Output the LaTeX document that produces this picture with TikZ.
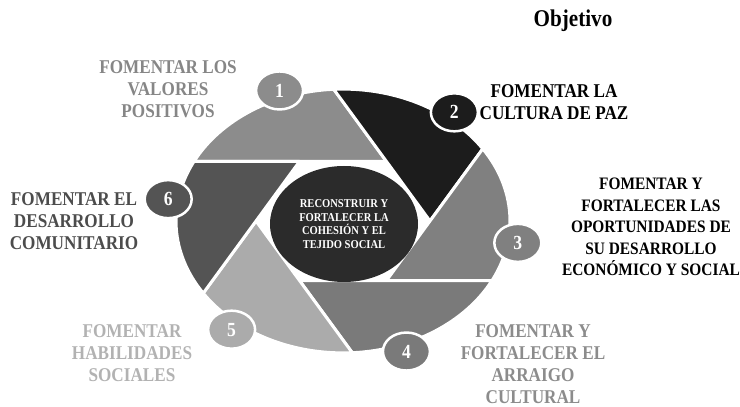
\documentclass[tikz,border=0pt]{standalone}
\usepackage{fontspec}
\setmainfont{Liberation Serif}[FakeStretch=0.88]
\usetikzlibrary{shapes.geometric}

\definecolor{shadeA}{gray}{0.55}
\definecolor{shadeB}{gray}{0.11}
\definecolor{shadeC}{gray}{0.50}
\definecolor{shadeD}{gray}{0.48}
\definecolor{shadeE}{gray}{0.67}
\definecolor{shadeF}{gray}{0.33}
\definecolor{coreC}{gray}{0.17}

\begin{document}
\begin{tikzpicture}[
        x=1pt, y=1pt,
        blade/.style={draw=white, line width=3pt, line join=round},
        numdot/.style={ellipse, draw=white, line width=2.5pt, minimum width=47pt, minimum height=38pt,
          inner sep=0pt, text=white, font=\bfseries\fontsize{20}{20}\selectfont},
        lbl/.style={align=center, font=\bfseries\fontsize{19.5}{22}\selectfont}
    ]
    \useasboundingbox (0,0) rectangle (740,407);

    % Shutter
    \begin{scope}[shift={(343,186)}, yscale=0.79]
      \foreach \a/\c in {60/shadeA, 0/shadeB, -60/shadeC, -120/shadeD, -180/shadeE, -240/shadeF} {
        \filldraw[blade, fill=\c] (\a:87) -- ++(\a+120:192.5)
          arc[start angle=\a+93.18, end angle=\a+33.18, radius=167] -- cycle;
      }
      \node[numdot, fill=shadeA] (n1) at (111:177) {1};
      \node[numdot, fill=shadeB] (n2) at (51:177) {2};
      \node[numdot, fill=shadeC] (n3) at (-9:177) {3};
      \node[numdot, fill=shadeD] (n4) at (-69:177) {4};
      \node[numdot, fill=shadeE] (n5) at (-129:177) {5};
      \node[numdot, fill=shadeF] (n6) at (171:177) {6};
    \end{scope}

    \node[ellipse, fill=coreC, minimum width=148pt, minimum height=116pt, inner sep=0pt,
      align=center, text=white, font=\bfseries\fontsize{12}{13.7}\selectfont] (core) at (344,183)
      {RECONSTRUIR Y\\FORTALECER LA\\COHESIÓN Y EL\\TEJIDO SOCIAL};

    % Labels
    \node[font=\bfseries\fontsize{24}{24}\selectfont] (title) at (573,386) {Objetivo};
    \node[lbl, text=gray!95] (l1) at (168,318) {FOMENTAR LOS\\VALORES\\POSITIVOS};
    \node[lbl, text=black] (l2) at (554,305) {FOMENTAR LA\\CULTURA DE PAZ};
    \node[lbl, text=black, font=\bfseries\fontsize{17.5}{21.5}\selectfont] (l3) at (651,180)
      {FOMENTAR Y\\FORTALECER LAS\\OPORTUNIDADES DE\\SU DESARROLLO\\ECONÓMICO Y SOCIAL};
    \node[lbl, text=gray!90] (l4) at (533,43) {FOMENTAR Y\\FORTALECER EL\\ARRAIGO\\CULTURAL};
    \node[lbl, text=gray!60] (l5) at (132,54) {FOMENTAR\\HABILIDADES\\SOCIALES};
    \node[lbl, text=black!70] (l6) at (74,186) {FOMENTAR EL\\DESARROLLO\\COMUNITARIO};
\end{tikzpicture}
\end{document}
